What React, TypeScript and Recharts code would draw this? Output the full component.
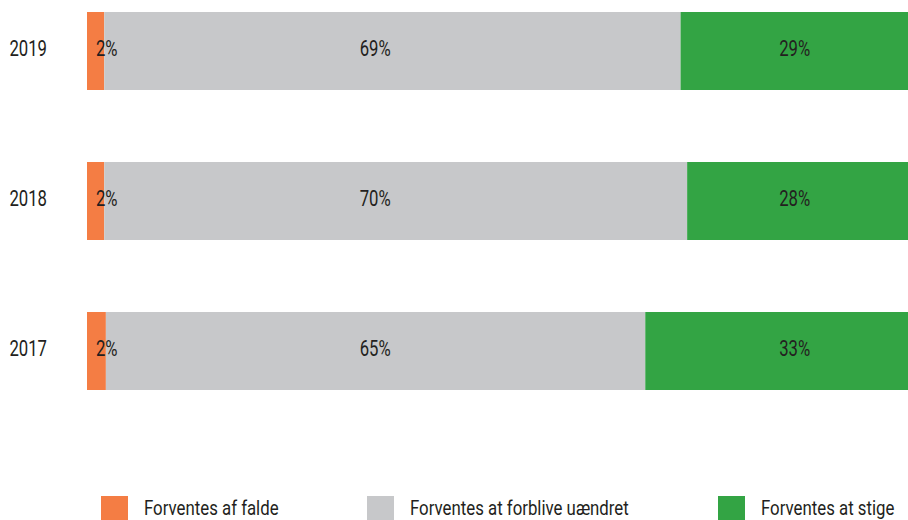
import { BarChart, Bar, XAxis, YAxis, Legend, LabelList } from "recharts";

const years = ["2019", "2018", "2017"];
const falde = [2.1, 2.1, 2.3];
const uaendret = [70.2, 71.0, 65.7];
const stige = [27.7, 26.9, 32.0];
const faldeLabels = ["2%", "2%", "2%"];
const uaendretLabels = ["69%", "70%", "65%"];
const stigeLabels = ["29%", "28%", "33%"];

const seriesNames = ["Forventes af falde", "Forventes at forblive uændret", "Forventes at stige"];
const seriesColors = ["#F47D44", "#C7C8CA", "#33A444"];

const data = years.map((year, i) => ({
    year,
    falde: falde[i],
    uaendret: uaendret[i],
    stige: stige[i],
    faldeLabel: faldeLabels[i],
    uaendretLabel: uaendretLabels[i],
    stigeLabel: stigeLabels[i],
}));

// no condensed font installed, so Roboto gets squeezed horizontally
const FONT = "Roboto, sans-serif";
const NUM_SIZE = 22;
const NUM_SQUEEZE = 0.76;
const LEG_SIZE = 21;
const LEG_SQUEEZE = 0.8;
const TEXT = "#231F20";
const W = 908;
const H = 520;
const AXIS_W = 87;
const PLOT_W = W - AXIS_W;

const ctx = document.createElement("canvas").getContext("2d");
const textWidth = (t: string, size: number) => {
    if (!ctx) return t.length * size * 0.5;
    ctx.font = `${size}px ${FONT}`;
    return ctx.measureText(t).width;
};

const Squeezed = ({ x, y, anchor, children }: any) => (
    <g transform={`translate(${x},${y})`}>
        <text
            transform={`scale(${NUM_SQUEEZE},1)`}
            textAnchor={anchor}
            dominantBaseline="central"
            fill={TEXT}
            fontSize={NUM_SIZE}
            fontFamily={FONT}
        >
            {children}
        </text>
    </g>
);

const YearTick = (props: any) => (
    <Squeezed x={props.x} y={props.y - 2} anchor="end">
        {props.payload.value}
    </Squeezed>
);

// labels sit at the same spot on every row in the original, not centred in the segment
const labelAt = (pos: number) => (props: any) => (
    <Squeezed x={AXIS_W + (pos / 100) * PLOT_W} y={props.y + props.height / 2 - 2} anchor="middle">
        {props.value}
    </Squeezed>
);

const LegendBox = () => (
    <div
        style={{
            display: "flex",
            justifyContent: "center",
            gap: 89,
            marginLeft: AXIS_W,
            width: PLOT_W,
            height: 24,
            fontFamily: FONT,
            fontSize: LEG_SIZE,
            color: TEXT,
        }}
    >
        {seriesNames.map((name, i) => (
            <div key={name} style={{ display: "flex", alignItems: "center", height: 24 }}>
                <span style={{ width: 27, height: 24, background: seriesColors[i], marginRight: 16 }} />
                <span style={{ display: "inline-block", width: textWidth(name, LEG_SIZE) * LEG_SQUEEZE, lineHeight: "24px" }}>
                    <span
                        style={{
                            display: "inline-block",
                            whiteSpace: "nowrap",
                            transform: `scaleX(${LEG_SQUEEZE})`,
                            transformOrigin: "0 50%",
                        }}
                    >
                        {name}
                    </span>
                </span>
            </div>
        ))}
    </div>
);

export default function App() {
    return (
        <div style={{ position: "absolute", left: 0, top: 0, width: W, height: H, background: "#fff" }}>
            <BarChart
                width={W}
                height={H}
                data={data}
                layout="vertical"
                margin={{ top: -24, right: 0, bottom: 70, left: 0 }}
            >
                <XAxis type="number" domain={[0, 100]} hide />
                <YAxis
                    type="category"
                    dataKey="year"
                    width={AXIS_W}
                    axisLine={false}
                    tickLine={false}
                    tickSize={0}
                    tickMargin={40}
                    tick={<YearTick />}
                />
                <Legend
                    content={<LegendBox />}
                    verticalAlign="bottom"
                    wrapperStyle={{ top: 496, left: 0, bottom: "auto" }}
                />
                <Bar dataKey="falde" name={seriesNames[0]} stackId="a" fill={seriesColors[0]} barSize={78} isAnimationActive={false}>
                    <LabelList dataKey="faldeLabel" content={labelAt(2.4)} />
                </Bar>
                <Bar dataKey="uaendret" name={seriesNames[1]} stackId="a" fill={seriesColors[1]} barSize={78} isAnimationActive={false}>
                    <LabelList dataKey="uaendretLabel" content={labelAt(35.1)} />
                </Bar>
                <Bar dataKey="stige" name={seriesNames[2]} stackId="a" fill={seriesColors[2]} barSize={78} isAnimationActive={false}>
                    <LabelList dataKey="stigeLabel" content={labelAt(86.2)} />
                </Bar>
            </BarChart>
        </div>
    );
}
